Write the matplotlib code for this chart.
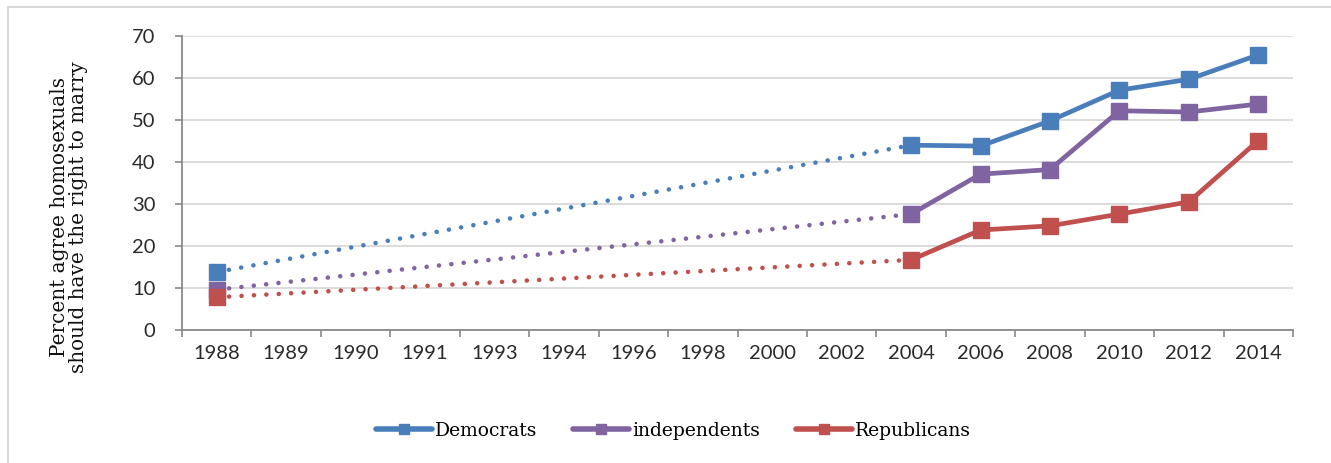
import numpy as np
import matplotlib.pyplot as plt
from matplotlib.lines import Line2D

years = ['1988', '1989', '1990', '1991', '1993', '1994', '1996', '1998',
         '2000', '2002', '2004', '2006', '2008', '2010', '2012', '2014']
nan = np.nan
democrats = [13.8, nan, nan, nan, nan, nan, nan, nan, nan, nan,
             44.0, 43.8, 49.8, 57.1, 59.7, 65.5]
independents = [9.6, nan, nan, nan, nan, nan, nan, nan, nan, nan,
                27.6, 37.1, 38.2, 52.2, 51.9, 53.8]
republicans = [7.8, nan, nan, nan, nan, nan, nan, nan, nan, nan,
               16.7, 23.8, 24.8, 27.6, 30.5, 45.1]

series = [('Democrats', democrats, '#4a7ebb'),
          ('independents', independents, '#8064a2'),
          ('Republicans', republicans, '#c0504d')]

slab = 'DejaVu Serif'
sans = 'Lato'

fig = plt.figure(figsize=(13.31, 4.63), dpi=100)
ax = fig.add_axes([182 / 1331, 1 - 330 / 463, (1293 - 182) / 1331, (330 - 36) / 463])

x = np.arange(len(years))
for name, vals, color in series:
    v = np.array(vals, dtype=float)
    ok = ~np.isnan(v)
    idx = x[ok]
    # dotted bridge over the missing years
    for a, b in zip(idx[:-1], idx[1:]):
        if b - a > 1:
            ax.plot([a, b], [v[a], v[b]], color=color, lw=3.3,
                    linestyle=(0, (0.01, 2.7)), dash_capstyle='round', zorder=2)
    # solid runs of consecutive years
    run = [idx[0]]
    for i in idx[1:]:
        if i - run[-1] == 1:
            run.append(i)
        else:
            if len(run) > 1:
                ax.plot(run, v[run], color=color, lw=3.4, solid_capstyle='round', zorder=3)
            run = [i]
    if len(run) > 1:
        ax.plot(run, v[run], color=color, lw=3.4, solid_capstyle='round', zorder=3)
    ax.plot(idx, v[idx], linestyle='none', marker='s', ms=11.5, color=color, zorder=4)

ax.set_xlim(-0.5, len(years) - 0.5)
ax.set_ylim(0, 70)
ax.set_yticks(range(0, 71, 10))
ax.set_xticks(x)
ax.set_xticklabels(years)
ax.set_xticks(np.arange(-0.5, len(years), 1), minor=True)
ax.tick_params(axis='x', which='major', length=0, pad=11, labelsize=14.5, labelcolor='#2a2a2a')
ax.tick_params(axis='x', which='minor', length=5, color='#898989', width=1.2)
ax.tick_params(axis='y', length=5, color='#898989', width=1.2, pad=14, labelsize=14.5,
               labelcolor='#2a2a2a')
for lab in ax.get_xticklabels() + ax.get_yticklabels():
    lab.set_family(sans)
ax.grid(axis='y', color='#d9d9d9', lw=1.3)
ax.set_axisbelow(True)
for s in ['top', 'right']:
    ax.spines[s].set_visible(False)
for s in ['left', 'bottom']:
    ax.spines[s].set_color('#898989')
    ax.spines[s].set_linewidth(1.3)

fig.text(69 / 1331, 1 - 217 / 463, 'Percent agree homosexuals\nshould have the right to marry',
         family=slab, fontsize=14.4, color='#111111', rotation=90, ha='center', va='center',
         linespacing=1.05)

handles = [Line2D([], [], color=c, lw=4, marker='s', ms=7.5, solid_capstyle='round')
           for _, _, c in series]
fig.legend(handles, [n for n, _, _ in series], loc='center', bbox_to_anchor=(0.506, 1 - 431 / 463),
           ncol=3, frameon=False, handlelength=3.0, handletextpad=0.15, columnspacing=1.9,
           prop={'family': slab, 'size': 13.5})

# light frame along the top and left edges
fig.add_artist(Line2D([8 / 1331, 8 / 1331], [0, 1 - 7 / 463], color='#d9d9d9', lw=1.5))
fig.add_artist(Line2D([8 / 1331, 1], [1 - 7 / 463, 1 - 7 / 463], color='#d9d9d9', lw=1.5))

fig.savefig('out.png', dpi=100)
